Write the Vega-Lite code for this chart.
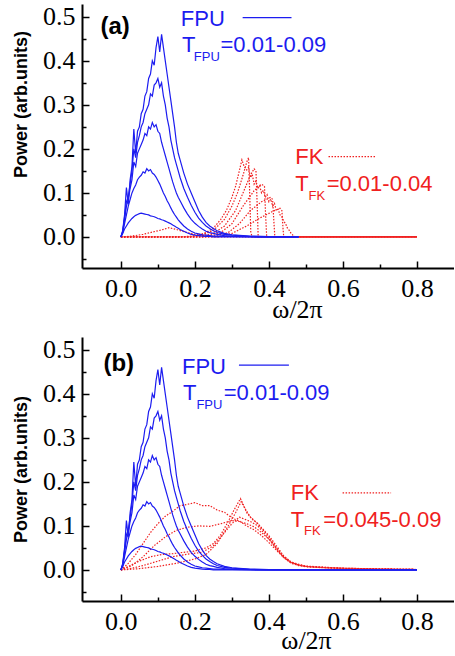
{
"$schema": "https://vega.github.io/schema/vega-lite/v6.json",
"background": "white",
"padding": {"left": 12, "top": 3, "right": 0, "bottom": 0},
"spacing": 14,
"config": {
  "view": {"stroke": null},
  "axis": {"grid": false, "domainColor": "black", "domainWidth": 2, "tickColor": "black", "tickWidth": 1.5, "labelFont": "Liberation Serif", "labelFontSize": 26, "labelColor": "black", "titleColor": "black", "labelOverlap": false, "labelFlush": false}
},
"datasets": {
  "fpu": [
    {"x":0,"a":0,"b":0,"c":0,"d":0,"e":0},
    {"x":0.005,"a":0.008,"b":0.01,"c":0.012,"d":0.012,"e":0.015},
    {"x":0.01,"a":0.018,"b":0.03,"c":0.04,"d":0.045,"e":0.05},
    {"x":0.015,"a":0.025,"b":0.05,"c":0.07,"d":0.08,"e":0.112},
    {"x":0.02,"a":0.032,"b":0.07,"c":0.085,"d":0.09,"e":0.075},
    {"x":0.025,"a":0.037,"b":0.085,"c":0.11,"d":0.12,"e":0.13},
    {"x":0.03,"a":0.042,"b":0.1,"c":0.13,"d":0.15,"e":0.16},
    {"x":0.035,"a":0.046,"b":0.11,"c":0.17,"d":0.2,"e":0.245},
    {"x":0.04,"a":0.049,"b":0.118,"c":0.16,"d":0.18,"e":0.19},
    {"x":0.045,"a":0.051,"b":0.13,"c":0.19,"d":0.215,"e":0.24},
    {"x":0.05,"a":0.053,"b":0.136,"c":0.2,"d":0.23,"e":0.25},
    {"x":0.055,"a":0.054,"b":0.14,"c":0.21,"d":0.25,"e":0.28},
    {"x":0.06,"a":0.053,"b":0.148,"c":0.22,"d":0.26,"e":0.29},
    {"x":0.065,"a":0.052,"b":0.145,"c":0.235,"d":0.28,"e":0.32},
    {"x":0.07,"a":0.051,"b":0.155,"c":0.23,"d":0.29,"e":0.33},
    {"x":0.075,"a":0.05,"b":0.15,"c":0.25,"d":0.3,"e":0.36},
    {"x":0.08,"a":0.048,"b":0.153,"c":0.245,"d":0.325,"e":0.37},
    {"x":0.085,"a":0.047,"b":0.145,"c":0.26,"d":0.32,"e":0.4},
    {"x":0.09,"a":0.046,"b":0.142,"c":0.25,"d":0.345,"e":0.39},
    {"x":0.095,"a":0.044,"b":0.136,"c":0.255,"d":0.35,"e":0.43},
    {"x":0.1,"a":0.042,"b":0.128,"c":0.24,"d":0.36,"e":0.455},
    {"x":0.105,"a":0.041,"b":0.12,"c":0.235,"d":0.34,"e":0.42},
    {"x":0.11,"a":0.039,"b":0.11,"c":0.215,"d":0.35,"e":0.46},
    {"x":0.115,"a":0.038,"b":0.1,"c":0.2,"d":0.32,"e":0.43},
    {"x":0.12,"a":0.036,"b":0.092,"c":0.185,"d":0.3,"e":0.4},
    {"x":0.125,"a":0.034,"b":0.082,"c":0.17,"d":0.27,"e":0.37},
    {"x":0.13,"a":0.032,"b":0.075,"c":0.155,"d":0.25,"e":0.34},
    {"x":0.135,"a":0.03,"b":0.066,"c":0.14,"d":0.22,"e":0.31},
    {"x":0.14,"a":0.027,"b":0.058,"c":0.125,"d":0.2,"e":0.28},
    {"x":0.145,"a":0.025,"b":0.051,"c":0.112,"d":0.18,"e":0.25},
    {"x":0.15,"a":0.022,"b":0.045,"c":0.1,"d":0.165,"e":0.215},
    {"x":0.155,"a":0.02,"b":0.039,"c":0.09,"d":0.15,"e":0.19},
    {"x":0.16,"a":0.017,"b":0.034,"c":0.082,"d":0.135,"e":0.175},
    {"x":0.17,"a":0.013,"b":0.025,"c":0.066,"d":0.11,"e":0.145},
    {"x":0.18,"a":0.009,"b":0.018,"c":0.052,"d":0.09,"e":0.12},
    {"x":0.19,"a":0.006,"b":0.013,"c":0.04,"d":0.072,"e":0.1},
    {"x":0.2,"a":0.004,"b":0.009,"c":0.031,"d":0.056,"e":0.08},
    {"x":0.21,"a":0.003,"b":0.007,"c":0.024,"d":0.043,"e":0.06},
    {"x":0.22,"a":0.002,"b":0.005,"c":0.018,"d":0.033,"e":0.045},
    {"x":0.23,"a":0.001,"b":0.004,"c":0.013,"d":0.025,"e":0.033},
    {"x":0.24,"a":0.001,"b":0.003,"c":0.01,"d":0.019,"e":0.025},
    {"x":0.25,"a":0,"b":0.002,"c":0.008,"d":0.014,"e":0.019},
    {"x":0.26,"a":0,"b":0.002,"c":0.006,"d":0.01,"e":0.014},
    {"x":0.28,"a":0,"b":0.001,"c":0.003,"d":0.006,"e":0.008},
    {"x":0.3,"a":0,"b":0.001,"c":0.002,"d":0.004,"e":0.005},
    {"x":0.35,"a":0,"b":0,"c":0.001,"d":0.001,"e":0.002},
    {"x":0.4,"a":0,"b":0,"c":0,"d":0,"e":0.001},
    {"x":0.48,"a":0,"b":0,"c":0,"d":0,"e":0},
    {"x":0.6,"a":0,"b":0,"c":0,"d":0,"e":0},
    {"x":0.8,"a":0,"b":0,"c":0,"d":0,"e":0}
  ],
  "fka": [
    {"c":"F0","x":0,"y":0},{"c":"F0","x":0.03,"y":0.002},{"c":"F0","x":0.06,"y":0.006},{"c":"F0","x":0.09,"y":0.012},{"c":"F0","x":0.11,"y":0.016},{"c":"F0","x":0.13,"y":0.021},{"c":"F0","x":0.15,"y":0.017},{"c":"F0","x":0.17,"y":0.012},{"c":"F0","x":0.2,"y":0.006},{"c":"F0","x":0.23,"y":0.002},{"c":"F0","x":0.26,"y":0},{"c":"F0","x":0.8,"y":0},
    {"c":"F1","x":0,"y":0},{"c":"F1","x":0.15,"y":0},{"c":"F1","x":0.2,"y":0.002},{"c":"F1","x":0.23,"y":0.01},{"c":"F1","x":0.25,"y":0.02},{"c":"F1","x":0.27,"y":0.04},{"c":"F1","x":0.285,"y":0.06},{"c":"F1","x":0.3,"y":0.09},{"c":"F1","x":0.31,"y":0.115},{"c":"F1","x":0.32,"y":0.15},{"c":"F1","x":0.327,"y":0.175},{"c":"F1","x":0.333,"y":0.16},{"c":"F1","x":0.34,"y":0.152},{"c":"F1","x":0.345,"y":0.158},{"c":"F1","x":0.35,"y":0.135},{"c":"F1","x":0.355,"y":0.142},{"c":"F1","x":0.36,"y":0.12},{"c":"F1","x":0.365,"y":0.127},{"c":"F1","x":0.37,"y":0.11},{"c":"F1","x":0.375,"y":0.116},{"c":"F1","x":0.38,"y":0.1},{"c":"F1","x":0.385,"y":0.106},{"c":"F1","x":0.39,"y":0.09},{"c":"F1","x":0.395,"y":0.096},{"c":"F1","x":0.4,"y":0.08},{"c":"F1","x":0.405,"y":0.086},{"c":"F1","x":0.41,"y":0.07},{"c":"F1","x":0.415,"y":0.076},{"c":"F1","x":0.42,"y":0.06},{"c":"F1","x":0.425,"y":0.063},{"c":"F1","x":0.43,"y":0.05},{"c":"F1","x":0.435,"y":0.046},{"c":"F1","x":0.44,"y":0.036},{"c":"F1","x":0.445,"y":0.03},{"c":"F1","x":0.45,"y":0.02},{"c":"F1","x":0.455,"y":0.015},{"c":"F1","x":0.46,"y":0.008},{"c":"F1","x":0.465,"y":0.004},{"c":"F1","x":0.47,"y":0.001},{"c":"F1","x":0.48,"y":0},{"c":"F1","x":0.8,"y":0},
    {"c":"F2","x":0,"y":0},{"c":"F2","x":0.18,"y":0},{"c":"F2","x":0.22,"y":0.005},{"c":"F2","x":0.25,"y":0.015},{"c":"F2","x":0.28,"y":0.04},{"c":"F2","x":0.3,"y":0.07},{"c":"F2","x":0.315,"y":0.1},{"c":"F2","x":0.33,"y":0.14},{"c":"F2","x":0.34,"y":0.17},{"c":"F2","x":0.345,"y":0.18},{"c":"F2","x":0.348,"y":0.1},{"c":"F2","x":0.351,"y":0.01},{"c":"F2","x":0.355,"y":0},{"c":"F2","x":0.8,"y":0},
    {"c":"F3","x":0,"y":0},{"c":"F3","x":0.2,"y":0},{"c":"F3","x":0.25,"y":0.008},{"c":"F3","x":0.28,"y":0.025},{"c":"F3","x":0.31,"y":0.06},{"c":"F3","x":0.33,"y":0.1},{"c":"F3","x":0.35,"y":0.14},{"c":"F3","x":0.36,"y":0.155},{"c":"F3","x":0.365,"y":0.15},{"c":"F3","x":0.368,"y":0.08},{"c":"F3","x":0.371,"y":0},{"c":"F3","x":0.8,"y":0},
    {"c":"F4","x":0,"y":0},{"c":"F4","x":0.22,"y":0},{"c":"F4","x":0.27,"y":0.01},{"c":"F4","x":0.3,"y":0.03},{"c":"F4","x":0.33,"y":0.07},{"c":"F4","x":0.36,"y":0.105},{"c":"F4","x":0.38,"y":0.12},{"c":"F4","x":0.388,"y":0.115},{"c":"F4","x":0.391,"y":0.05},{"c":"F4","x":0.394,"y":0},{"c":"F4","x":0.8,"y":0},
    {"c":"F5","x":0,"y":0},{"c":"F5","x":0.24,"y":0},{"c":"F5","x":0.29,"y":0.01},{"c":"F5","x":0.32,"y":0.03},{"c":"F5","x":0.35,"y":0.06},{"c":"F5","x":0.38,"y":0.08},{"c":"F5","x":0.405,"y":0.09},{"c":"F5","x":0.41,"y":0.085},{"c":"F5","x":0.413,"y":0.04},{"c":"F5","x":0.416,"y":0},{"c":"F5","x":0.8,"y":0},
    {"c":"F6","x":0,"y":0},{"c":"F6","x":0.26,"y":0},{"c":"F6","x":0.3,"y":0.008},{"c":"F6","x":0.34,"y":0.025},{"c":"F6","x":0.38,"y":0.045},{"c":"F6","x":0.41,"y":0.058},{"c":"F6","x":0.43,"y":0.065},{"c":"F6","x":0.435,"y":0.06},{"c":"F6","x":0.438,"y":0.02},{"c":"F6","x":0.44,"y":0},{"c":"F6","x":0.8,"y":0}
  ],
  "fkb": [
    {"c":"A","x":0,"y":0},{"c":"A","x":0.02,"y":0.015},{"c":"A","x":0.04,"y":0.035},{"c":"A","x":0.06,"y":0.06},{"c":"A","x":0.08,"y":0.085},{"c":"A","x":0.1,"y":0.105},{"c":"A","x":0.12,"y":0.122},{"c":"A","x":0.14,"y":0.133},{"c":"A","x":0.16,"y":0.146},{"c":"A","x":0.18,"y":0.149},{"c":"A","x":0.2,"y":0.153},{"c":"A","x":0.22,"y":0.146},{"c":"A","x":0.24,"y":0.146},{"c":"A","x":0.26,"y":0.136},{"c":"A","x":0.28,"y":0.131},{"c":"A","x":0.3,"y":0.118},{"c":"A","x":0.32,"y":0.111},{"c":"A","x":0.34,"y":0.1},{"c":"A","x":0.36,"y":0.091},{"c":"A","x":0.38,"y":0.078},{"c":"A","x":0.4,"y":0.062},{"c":"A","x":0.42,"y":0.045},{"c":"A","x":0.44,"y":0.028},{"c":"A","x":0.46,"y":0.017},{"c":"A","x":0.48,"y":0.011},{"c":"A","x":0.5,"y":0.008},{"c":"A","x":0.55,"y":0.005},{"c":"A","x":0.6,"y":0.004},{"c":"A","x":0.7,"y":0.002},{"c":"A","x":0.8,"y":0.001},
    {"c":"B","x":0,"y":0},{"c":"B","x":0.03,"y":0.01},{"c":"B","x":0.06,"y":0.03},{"c":"B","x":0.09,"y":0.055},{"c":"B","x":0.12,"y":0.075},{"c":"B","x":0.15,"y":0.09},{"c":"B","x":0.18,"y":0.097},{"c":"B","x":0.21,"y":0.1},{"c":"B","x":0.24,"y":0.099},{"c":"B","x":0.27,"y":0.105},{"c":"B","x":0.3,"y":0.112},{"c":"B","x":0.32,"y":0.11},{"c":"B","x":0.34,"y":0.105},{"c":"B","x":0.36,"y":0.098},{"c":"B","x":0.38,"y":0.085},{"c":"B","x":0.4,"y":0.07},{"c":"B","x":0.42,"y":0.05},{"c":"B","x":0.44,"y":0.03},{"c":"B","x":0.46,"y":0.018},{"c":"B","x":0.48,"y":0.012},{"c":"B","x":0.5,"y":0.009},{"c":"B","x":0.55,"y":0.006},{"c":"B","x":0.6,"y":0.004},{"c":"B","x":0.7,"y":0.002},{"c":"B","x":0.8,"y":0.001},
    {"c":"C","x":0,"y":0},{"c":"C","x":0.02,"y":0.008},{"c":"C","x":0.05,"y":0.02},{"c":"C","x":0.08,"y":0.03},{"c":"C","x":0.11,"y":0.035},{"c":"C","x":0.14,"y":0.037},{"c":"C","x":0.17,"y":0.04},{"c":"C","x":0.2,"y":0.043},{"c":"C","x":0.23,"y":0.05},{"c":"C","x":0.25,"y":0.06},{"c":"C","x":0.27,"y":0.08},{"c":"C","x":0.29,"y":0.11},{"c":"C","x":0.305,"y":0.135},{"c":"C","x":0.315,"y":0.15},{"c":"C","x":0.323,"y":0.162},{"c":"C","x":0.33,"y":0.15},{"c":"C","x":0.34,"y":0.13},{"c":"C","x":0.355,"y":0.115},{"c":"C","x":0.37,"y":0.105},{"c":"C","x":0.38,"y":0.095},{"c":"C","x":0.4,"y":0.075},{"c":"C","x":0.42,"y":0.05},{"c":"C","x":0.44,"y":0.03},{"c":"C","x":0.46,"y":0.016},{"c":"C","x":0.48,"y":0.01},{"c":"C","x":0.5,"y":0.008},{"c":"C","x":0.6,"y":0.004},{"c":"C","x":0.8,"y":0.001},
    {"c":"D","x":0,"y":0},{"c":"D","x":0.03,"y":0.004},{"c":"D","x":0.06,"y":0.01},{"c":"D","x":0.1,"y":0.02},{"c":"D","x":0.14,"y":0.03},{"c":"D","x":0.18,"y":0.036},{"c":"D","x":0.22,"y":0.04},{"c":"D","x":0.25,"y":0.055},{"c":"D","x":0.28,"y":0.085},{"c":"D","x":0.3,"y":0.105},{"c":"D","x":0.32,"y":0.12},{"c":"D","x":0.335,"y":0.115},{"c":"D","x":0.35,"y":0.11},{"c":"D","x":0.37,"y":0.1},{"c":"D","x":0.4,"y":0.07},{"c":"D","x":0.42,"y":0.048},{"c":"D","x":0.44,"y":0.028},{"c":"D","x":0.46,"y":0.015},{"c":"D","x":0.5,"y":0.007},{"c":"D","x":0.6,"y":0.003},{"c":"D","x":0.8,"y":0.001},
    {"c":"E","x":0,"y":0},{"c":"E","x":0.05,"y":0.003},{"c":"E","x":0.1,"y":0.008},{"c":"E","x":0.15,"y":0.015},{"c":"E","x":0.2,"y":0.025},{"c":"E","x":0.23,"y":0.035},{"c":"E","x":0.26,"y":0.06},{"c":"E","x":0.29,"y":0.1},{"c":"E","x":0.31,"y":0.13},{"c":"E","x":0.325,"y":0.155},{"c":"E","x":0.335,"y":0.14},{"c":"E","x":0.35,"y":0.12},{"c":"E","x":0.37,"y":0.105},{"c":"E","x":0.4,"y":0.078},{"c":"E","x":0.42,"y":0.055},{"c":"E","x":0.44,"y":0.032},{"c":"E","x":0.46,"y":0.018},{"c":"E","x":0.5,"y":0.008},{"c":"E","x":0.6,"y":0.003},{"c":"E","x":0.8,"y":0.001}
  ],
  "notes": [
    {"p":"a","r":"tag","s":"tag","t":"(a)","x":-0.055,"y":0.461},
    {"p":"a","r":"main","s":"FPU","t":"FPU","x":0.162,"y":0.48},
    {"p":"a","r":"main","s":"FPU","t":"T","x":0.165,"y":0.419},
    {"p":"a","r":"sub","s":"FPU","t":"FPU","x":0.197,"y":0.4},
    {"p":"a","r":"main","s":"FPU","t":"=0.01-0.09","x":0.269,"y":0.419},
    {"p":"a","r":"main","s":"FK","t":"FK","x":0.471,"y":0.165},
    {"p":"a","r":"main","s":"FK","t":"T","x":0.471,"y":0.1045},
    {"p":"a","r":"sub","s":"FK","t":"FK","x":0.507,"y":0.083},
    {"p":"a","r":"main","s":"FK","t":"=0.01-0.04","x":0.556,"y":0.1045},
    {"p":"b","r":"tag","s":"tag","t":"(b)","x":-0.047,"y":0.452},
    {"p":"b","r":"main","s":"FPU","t":"FPU","x":0.165,"y":0.446},
    {"p":"b","r":"main","s":"FPU","t":"T","x":0.168,"y":0.385},
    {"p":"b","r":"sub","s":"FPU","t":"FPU","x":0.204,"y":0.366},
    {"p":"b","r":"main","s":"FPU","t":"=0.01-0.09","x":0.278,"y":0.385},
    {"p":"b","r":"main","s":"FK","t":"FK","x":0.459,"y":0.158},
    {"p":"b","r":"main","s":"FK","t":"T","x":0.459,"y":0.098},
    {"p":"b","r":"sub","s":"FK","t":"FK","x":0.495,"y":0.079},
    {"p":"b","r":"main","s":"FK","t":"=0.045-0.09","x":0.547,"y":0.098}
  ],
  "keys": [
    {"p":"a","s":"FPU","x":0.329,"x2":0.461,"y":0.498},
    {"p":"a","s":"FK","x":0.561,"x2":0.689,"y":0.1825},
    {"p":"b","s":"FPU","x":0.319,"x2":0.454,"y":0.465},
    {"p":"b","s":"FK","x":0.599,"x2":0.73,"y":0.175}
  ]
},
"vconcat": [
  {
    "width": 372, "height": 264,
    "resolve": {"axis": {"y": "independent"}},
    "layer": [
      {"data": {"name": "fka"},
       "mark": {"type": "line", "color": "#f02020", "strokeWidth": 1.2, "strokeDash": [1.5, 1.5]},
       "encoding": {
         "x": {"field": "x", "type": "quantitative", "scale": {"domain": [-0.105, 0.9], "nice": false, "zero": false},
               "axis": {"title": "ω/2π", "titleFont": "Liberation Serif", "titleFontSize": 26, "titleFontWeight": "normal", "titleX": 215, "titlePadding": -8,
                        "values": [0,0.1,0.2,0.3,0.4,0.5,0.6,0.7,0.8],
                        "labelExpr": "abs(datum.value*5-round(datum.value*5))<0.001 ? format(datum.value,'.1f') : ''",
                        "tickSize": {"condition": {"test": "abs(datum.value*5-round(datum.value*5))<0.001", "value": -7}, "value": -4},
                        "labelPadding": 14}},
         "y": {"field": "y", "type": "quantitative", "scale": {"domain": [-0.0705, 0.529], "nice": false, "zero": false},
               "axis": {"orient": "left", "title": "Power (arb.units)", "titleFont": "Liberation Sans", "titleFontSize": 18, "titleFontWeight": "bold", "titleY": 100, "titlePadding": 12,
                        "values": [0,0.1,0.2,0.3,0.4,0.5], "format": ".1f",
                        "tickSize": -7, "labelPadding": 14}},
         "detail": {"field": "c"}
       }},
      {"data": {"name": "fpu"},
       "transform": [{"filter": "datum.x <= 0.48"}, {"fold": ["a","b","c","d","e"], "as": ["k","v"]}],
       "mark": {"type": "line", "color": "#1c1cf0", "strokeWidth": 1.2},
       "encoding": {"x": {"field": "x", "type": "quantitative"},
                    "y": {"field": "v", "type": "quantitative", "axis": {"orient": "left", "title": null, "labels": false, "domain": false, "values": [-0.05,0.05,0.15,0.25,0.35,0.45], "tickSize": -4}},
                    "detail": {"field": "k"}}},
      {"data": {"name": "keys"}, "transform": [{"filter": "datum.p == 'a' && datum.s == 'FPU'"}],
       "mark": {"type": "rule", "color": "#1c1cf0", "strokeWidth": 1.2},
       "encoding": {"x": {"field": "x", "type": "quantitative"}, "x2": {"field": "x2"}, "y": {"field": "y", "type": "quantitative", "axis": null}}},
      {"data": {"name": "keys"}, "transform": [{"filter": "datum.p == 'a' && datum.s == 'FK'"}],
       "mark": {"type": "rule", "color": "#f02020", "strokeWidth": 1.2, "strokeDash": [1.5, 1.5]},
       "encoding": {"x": {"field": "x", "type": "quantitative"}, "x2": {"field": "x2"}, "y": {"field": "y", "type": "quantitative", "axis": null}}},
      {"data": {"name": "notes"}, "transform": [{"filter": "datum.p == 'a' && datum.r == 'tag'"}],
       "mark": {"type": "text", "align": "left", "baseline": "alphabetic", "font": "Liberation Sans", "fontWeight": "bold", "fontSize": 24, "color": "black"},
       "encoding": {"x": {"field": "x", "type": "quantitative"}, "y": {"field": "y", "type": "quantitative", "axis": null}, "text": {"field": "t"}}},
      {"data": {"name": "notes"}, "transform": [{"filter": "datum.p == 'a' && datum.r == 'main'"}],
       "mark": {"type": "text", "align": "left", "baseline": "alphabetic", "font": "Liberation Sans", "fontSize": 22},
       "encoding": {"x": {"field": "x", "type": "quantitative"}, "y": {"field": "y", "type": "quantitative", "axis": null}, "text": {"field": "t"},
                    "color": {"field": "s", "type": "nominal", "scale": {"domain": ["FPU","FK"], "range": ["#1c1cf0","#f02020"]}, "legend": null}}},
      {"data": {"name": "notes"}, "transform": [{"filter": "datum.p == 'a' && datum.r == 'sub'"}],
       "mark": {"type": "text", "align": "left", "baseline": "alphabetic", "font": "Liberation Sans", "fontSize": 13},
       "encoding": {"x": {"field": "x", "type": "quantitative"}, "y": {"field": "y", "type": "quantitative", "axis": null}, "text": {"field": "t"},
                    "color": {"field": "s", "type": "nominal", "scale": {"domain": ["FPU","FK"], "range": ["#1c1cf0","#f02020"]}, "legend": null}}}
    ]
  },
  {
    "width": 372, "height": 264,
    "resolve": {"axis": {"y": "independent"}},
    "layer": [
      {"data": {"name": "fkb"},
       "mark": {"type": "line", "color": "#f02020", "strokeWidth": 1.2, "strokeDash": [1.5, 1.5]},
       "encoding": {
         "x": {"field": "x", "type": "quantitative", "scale": {"domain": [-0.105, 0.9], "nice": false, "zero": false},
               "axis": {"title": "ω/2π", "titleFont": "Liberation Serif", "titleFontSize": 26, "titleFontWeight": "normal", "titleX": 224, "titlePadding": -10,
                        "values": [0,0.1,0.2,0.3,0.4,0.5,0.6,0.7,0.8],
                        "labelExpr": "abs(datum.value*5-round(datum.value*5))<0.001 ? format(datum.value,'.1f') : ''",
                        "tickSize": {"condition": {"test": "abs(datum.value*5-round(datum.value*5))<0.001", "value": -7}, "value": -4},
                        "labelPadding": 14}},
         "y": {"field": "y", "type": "quantitative", "scale": {"domain": [-0.0705, 0.529], "nice": false, "zero": false},
               "axis": {"orient": "left", "title": "Power (arb.units)", "titleFont": "Liberation Sans", "titleFontSize": 18, "titleFontWeight": "bold", "titlePadding": 12,
                        "values": [0,0.1,0.2,0.3,0.4,0.5], "format": ".1f",
                        "tickSize": -7, "labelPadding": 14}},
         "detail": {"field": "c"}
       }},
      {"data": {"name": "fpu"},
       "transform": [{"fold": ["a","b","c","d","e"], "as": ["k","v"]}],
       "mark": {"type": "line", "color": "#1c1cf0", "strokeWidth": 1.2},
       "encoding": {"x": {"field": "x", "type": "quantitative"},
                    "y": {"field": "v", "type": "quantitative", "axis": {"orient": "left", "title": null, "labels": false, "domain": false, "values": [-0.05,0.05,0.15,0.25,0.35,0.45], "tickSize": -4}},
                    "detail": {"field": "k"}}},
      {"data": {"name": "keys"}, "transform": [{"filter": "datum.p == 'b' && datum.s == 'FPU'"}],
       "mark": {"type": "rule", "color": "#1c1cf0", "strokeWidth": 1.2},
       "encoding": {"x": {"field": "x", "type": "quantitative"}, "x2": {"field": "x2"}, "y": {"field": "y", "type": "quantitative", "axis": null}}},
      {"data": {"name": "keys"}, "transform": [{"filter": "datum.p == 'b' && datum.s == 'FK'"}],
       "mark": {"type": "rule", "color": "#f02020", "strokeWidth": 1.2, "strokeDash": [1.5, 1.5]},
       "encoding": {"x": {"field": "x", "type": "quantitative"}, "x2": {"field": "x2"}, "y": {"field": "y", "type": "quantitative", "axis": null}}},
      {"data": {"name": "notes"}, "transform": [{"filter": "datum.p == 'b' && datum.r == 'tag'"}],
       "mark": {"type": "text", "align": "left", "baseline": "alphabetic", "font": "Liberation Sans", "fontWeight": "bold", "fontSize": 24, "color": "black"},
       "encoding": {"x": {"field": "x", "type": "quantitative"}, "y": {"field": "y", "type": "quantitative", "axis": null}, "text": {"field": "t"}}},
      {"data": {"name": "notes"}, "transform": [{"filter": "datum.p == 'b' && datum.r == 'main'"}],
       "mark": {"type": "text", "align": "left", "baseline": "alphabetic", "font": "Liberation Sans", "fontSize": 22},
       "encoding": {"x": {"field": "x", "type": "quantitative"}, "y": {"field": "y", "type": "quantitative", "axis": null}, "text": {"field": "t"},
                    "color": {"field": "s", "type": "nominal", "scale": {"domain": ["FPU","FK"], "range": ["#1c1cf0","#f02020"]}, "legend": null}}},
      {"data": {"name": "notes"}, "transform": [{"filter": "datum.p == 'b' && datum.r == 'sub'"}],
       "mark": {"type": "text", "align": "left", "baseline": "alphabetic", "font": "Liberation Sans", "fontSize": 13},
       "encoding": {"x": {"field": "x", "type": "quantitative"}, "y": {"field": "y", "type": "quantitative", "axis": null}, "text": {"field": "t"},
                    "color": {"field": "s", "type": "nominal", "scale": {"domain": ["FPU","FK"], "range": ["#1c1cf0","#f02020"]}, "legend": null}}}
    ]
  }
]
}
